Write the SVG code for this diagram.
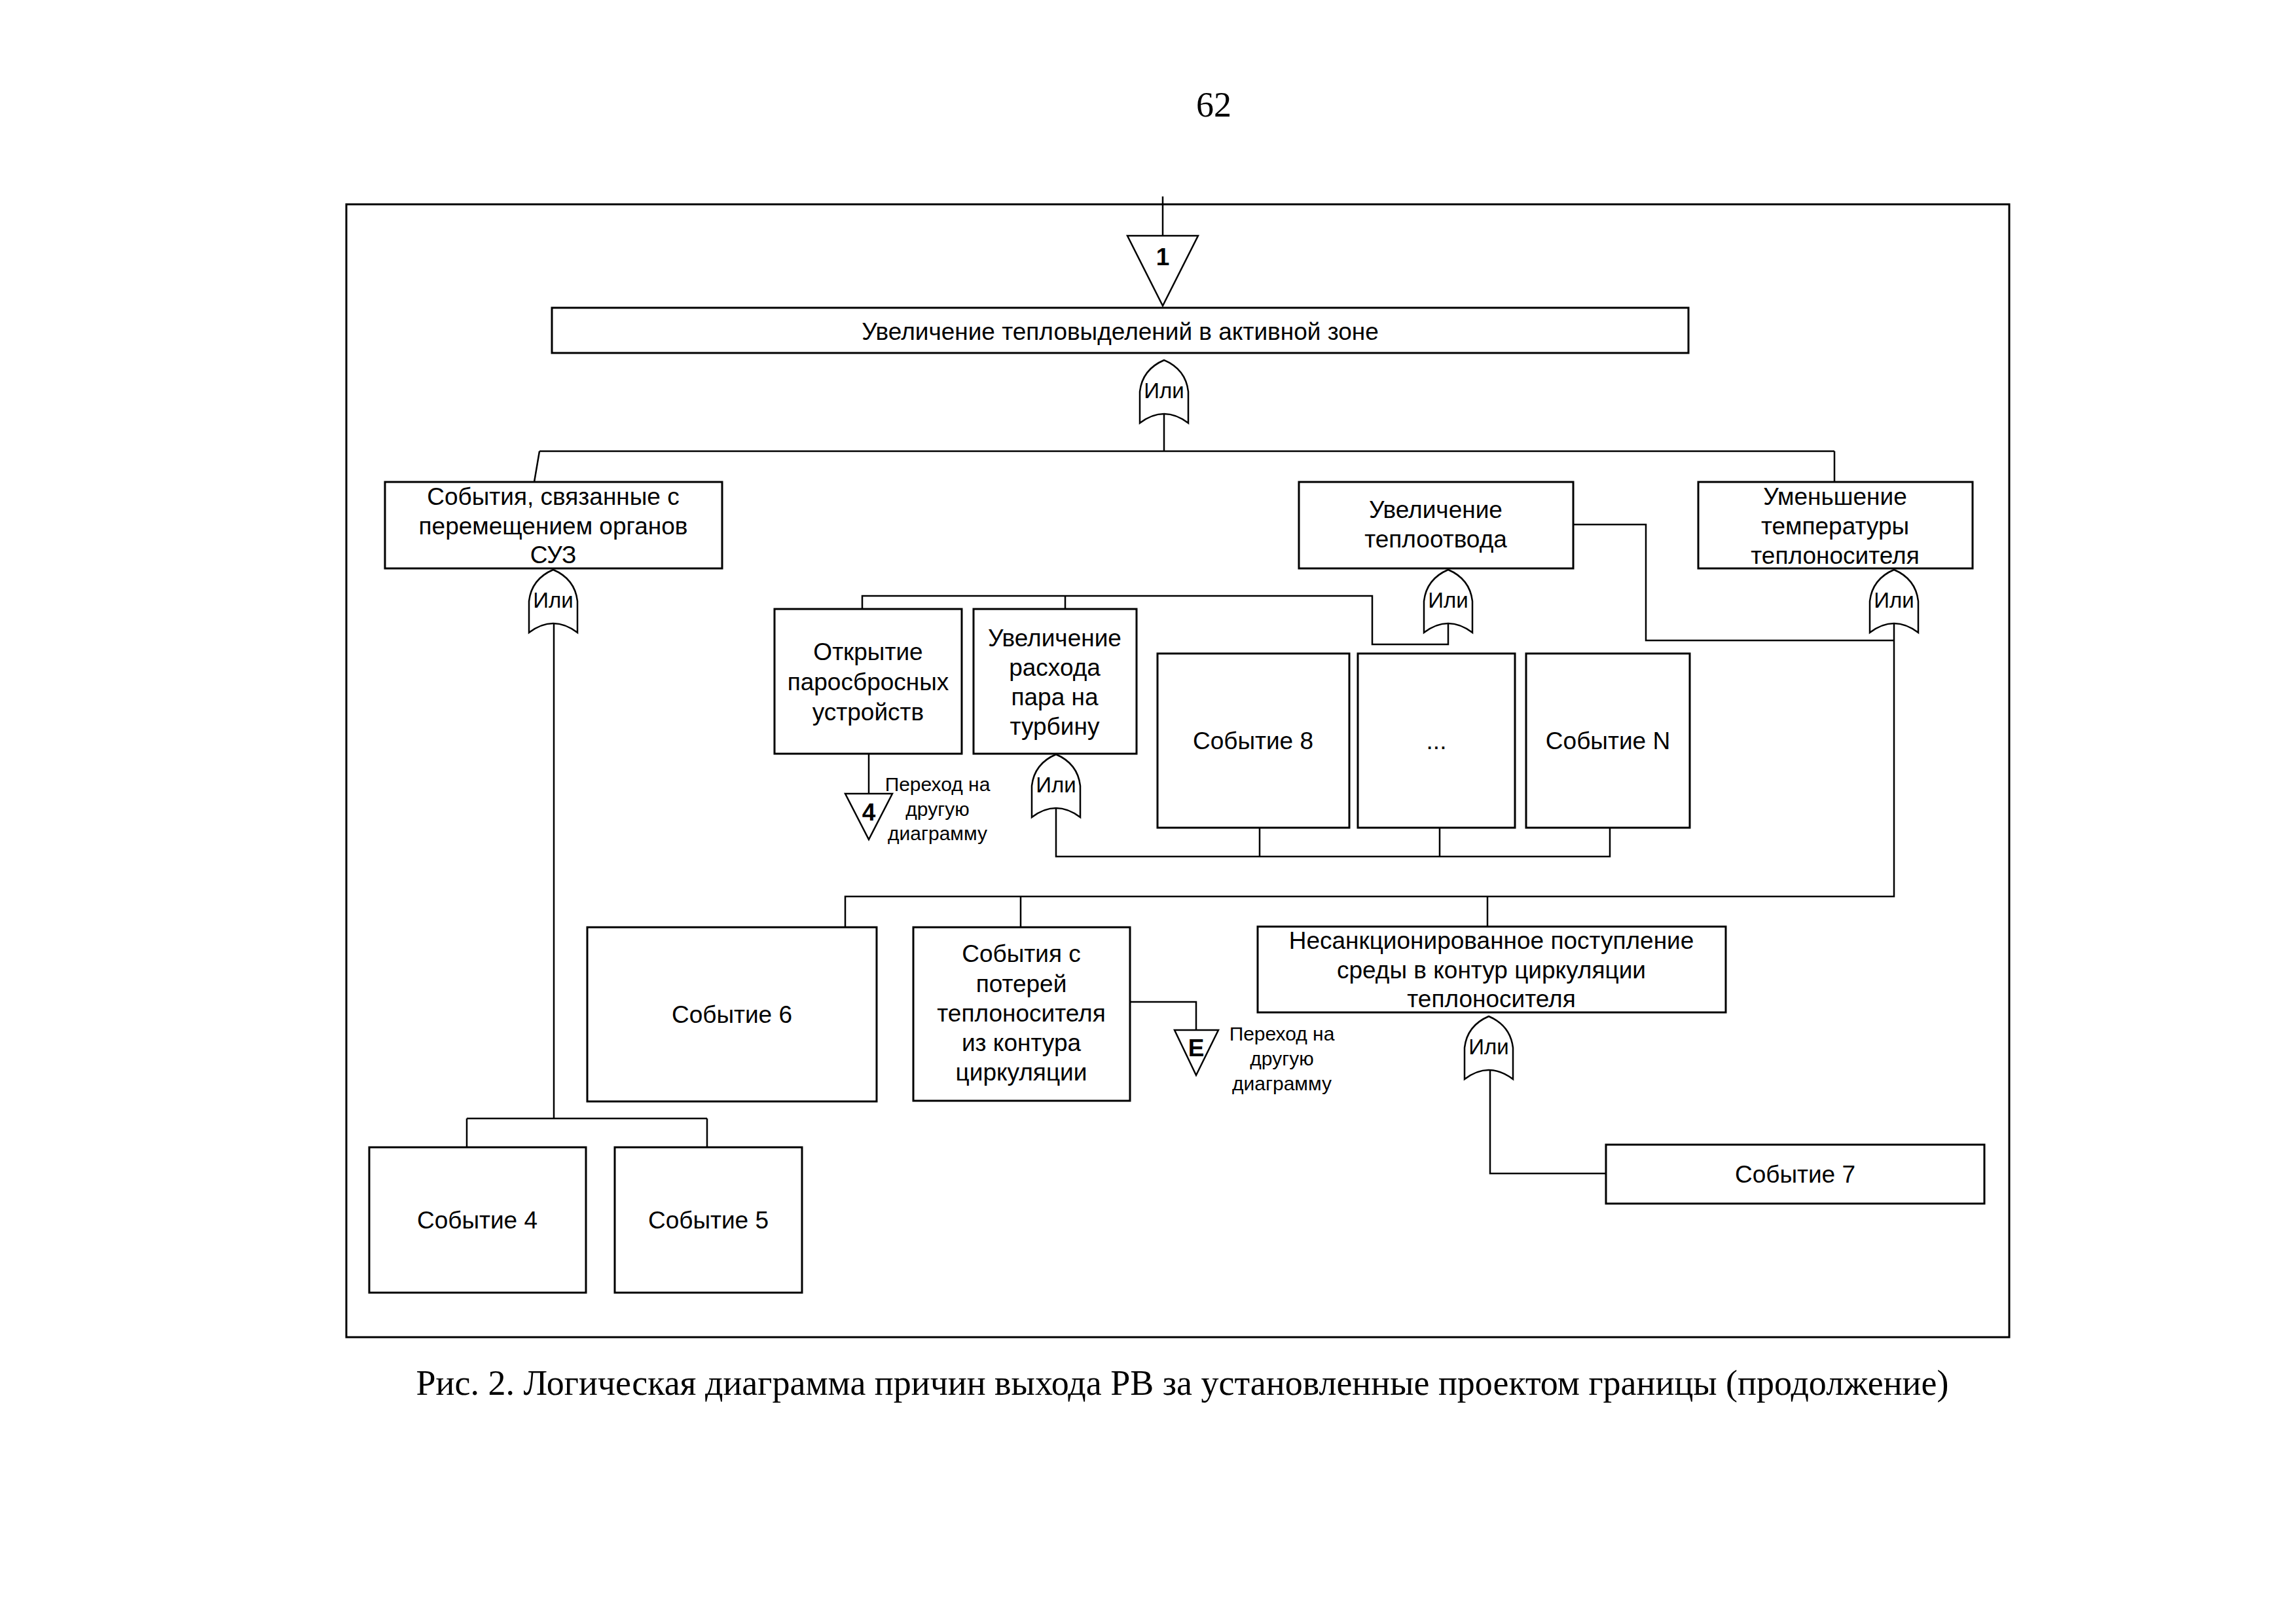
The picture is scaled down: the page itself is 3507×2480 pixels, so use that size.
<svg xmlns="http://www.w3.org/2000/svg" xmlns:xlink="http://www.w3.org/1999/xlink" width="3507" height="2480" viewBox="0 0 3507 2480">
<style>
.box{fill:#fff;stroke:#000;stroke-width:3}
.ln{fill:none;stroke:#000;stroke-width:2.5}
.gate{fill:#fff;stroke:#000;stroke-width:2.5}
.tri{fill:#fff;stroke:#000;stroke-width:2.5}
.t{font-family:"Liberation Sans",Arial,sans-serif;font-size:37px;text-anchor:middle;dominant-baseline:central;fill:#000}
.s{font-size:30px}
.g{font-size:33px}
.b{font-weight:bold}
.serif{font-family:"Liberation Serif","Times New Roman",serif;text-anchor:middle;fill:#000}
</style>
<defs>
<path id="or" d="M-37,96 L-37,48 Q-33,14 0,0 Q33,14 37,48 L37,96 Q0,68 -37,96 Z"/>
</defs>
<rect width="3507" height="2480" fill="#fff"/>
<text class="serif" x="1854" y="178" font-size="54">62</text>
<rect id="frame" x="529" y="312" width="2540" height="1730" fill="none" stroke="#000" stroke-width="3"/>

<g id="connectors">
<path class="ln" d="M1776,300 V360"/>
<path class="ln" d="M1778,632 V689 M824,689 H2802 M824,689 L816,736 M2802,689 V736"/>
<path class="ln" d="M846,952 V1708 M713,1708 H1080 M713,1708 V1752 M1080,1708 V1752"/>
<path class="ln" d="M2403,801 H2514 V978 H2893"/>
<path class="ln" d="M2212,952 V984 H2096 V910 H1317 V930 M1627,910 V930"/>
<path class="ln" d="M2893,952 V1369 H1291 V1416 M1559,1369 V1416 M2272,1369 V1415"/>
<path class="ln" d="M1327,1151 V1212"/>
<path class="ln" d="M1613,1234 V1308 H2459 V1264 M1924,1308 V1264 M2199,1308 V1264"/>
<path class="ln" d="M1726,1530 H1827 V1573"/>
<path class="ln" d="M2276,1634 V1792 H2453"/>
</g>

<g id="transfer1">
<polygon class="tri" points="1722,360 1830,360 1776,467"/>
<text class="t b" x="1776" y="392" font-size="40">1</text>
</g>

<g id="top">
<rect class="box" x="843" y="470" width="1736" height="69"/>
<text class="t" x="1711" y="506">Увеличение тепловыделений в активной зоне</text>
</g>
<g id="gate-top">
<use href="#or" class="gate" x="1778" y="550"/>
<text class="t g" x="1778" y="596">Или</text>
</g>

<g id="suz">
<rect class="box" x="588" y="736" width="515" height="132"/>
<text class="t" x="845" y="758">События, связанные с</text>
<text class="t" x="845" y="803">перемещением органов</text>
<text class="t" x="845" y="847">СУЗ</text>
</g>
<g id="gate-suz">
<use href="#or" class="gate" x="845" y="870"/>
<text class="t g" x="845" y="916">Или</text>
</g>

<g id="teplootvod">
<rect class="box" x="1984" y="736" width="419" height="132"/>
<text class="t" x="2193" y="778">Увеличение</text>
<text class="t" x="2193" y="823">теплоотвода</text>
</g>
<g id="gate-teplootvod">
<use href="#or" class="gate" x="2212" y="870"/>
<text class="t g" x="2212" y="916">Или</text>
</g>

<g id="umen">
<rect class="box" x="2594" y="736" width="419" height="132"/>
<text class="t" x="2803" y="758">Уменьшение</text>
<text class="t" x="2803" y="803">температуры</text>
<text class="t" x="2803" y="848">теплоносителя</text>
</g>
<g id="gate-umen">
<use href="#or" class="gate" x="2893" y="870"/>
<text class="t g" x="2893" y="916">Или</text>
</g>

<g id="otkrytie">
<rect class="box" x="1183" y="930" width="286" height="221"/>
<text class="t" x="1326" y="995">Открытие</text>
<text class="t" x="1326" y="1041">паросбросных</text>
<text class="t" x="1326" y="1087">устройств</text>
</g>

<g id="rashod">
<rect class="box" x="1487" y="930" width="249" height="221"/>
<text class="t" x="1611" y="974">Увеличение</text>
<text class="t" x="1611" y="1019">расхода</text>
<text class="t" x="1611" y="1064">пара на</text>
<text class="t" x="1611" y="1109">турбину</text>
</g>
<g id="gate-rashod">
<use href="#or" class="gate" x="1613" y="1152"/>
<text class="t g" x="1613" y="1198">Или</text>
</g>

<g id="transfer4">
<polygon class="tri" points="1291,1212 1363,1212 1327,1282"/>
<text class="t b" x="1327" y="1240" font-size="32">4</text>
<text class="t s" x="1432" y="1197">Переход на</text>
<text class="t s" x="1432" y="1235">другую</text>
<text class="t s" x="1432" y="1272">диаграмму</text>
</g>

<g id="event8">
<rect class="box" x="1768" y="998" width="293" height="266"/>
<text class="t" x="1914" y="1131">Событие 8</text>
</g>
<g id="eventdots">
<rect class="box" x="2074" y="998" width="240" height="266"/>
<text class="t" x="2194" y="1131">...</text>
</g>
<g id="eventN">
<rect class="box" x="2331" y="998" width="250" height="266"/>
<text class="t" x="2456" y="1131">Событие N</text>
</g>

<g id="event6">
<rect class="box" x="897" y="1416" width="442" height="266"/>
<text class="t" x="1118" y="1549">Событие 6</text>
</g>

<g id="poterya">
<rect class="box" x="1395" y="1416" width="331" height="265"/>
<text class="t" x="1560" y="1456">События с</text>
<text class="t" x="1560" y="1502">потерей</text>
<text class="t" x="1560" y="1547">теплоносителя</text>
<text class="t" x="1560" y="1592">из контура</text>
<text class="t" x="1560" y="1637">циркуляции</text>
</g>

<g id="transferE">
<polygon class="tri" points="1794,1573 1861,1573 1827,1642"/>
<text class="t b" x="1827" y="1600" font-size="32">E</text>
<text class="t s" x="1958" y="1578">Переход на</text>
<text class="t s" x="1958" y="1616">другую</text>
<text class="t s" x="1958" y="1654">диаграмму</text>
</g>

<g id="nesankc">
<rect class="box" x="1921" y="1415" width="715" height="131"/>
<text class="t" x="2278" y="1436">Несанкционированное поступление</text>
<text class="t" x="2278" y="1481">среды в контур циркуляции</text>
<text class="t" x="2278" y="1525">теплоносителя</text>
</g>
<g id="gate-nesankc">
<use href="#or" class="gate" x="2274" y="1552"/>
<text class="t g" x="2274" y="1598">Или</text>
</g>

<g id="event7">
<rect class="box" x="2453" y="1748" width="578" height="90"/>
<text class="t" x="2742" y="1793">Событие 7</text>
</g>

<g id="event4">
<rect class="box" x="564" y="1752" width="331" height="222"/>
<text class="t" x="729" y="1863">Событие 4</text>
</g>
<g id="event5">
<rect class="box" x="939" y="1752" width="286" height="222"/>
<text class="t" x="1082" y="1863">Событие 5</text>
</g>

<text class="serif" x="1806" y="2130" font-size="54">Рис. 2. Логическая диаграмма причин выхода РВ за установленные проектом границы (продолжение)</text>
</svg>
